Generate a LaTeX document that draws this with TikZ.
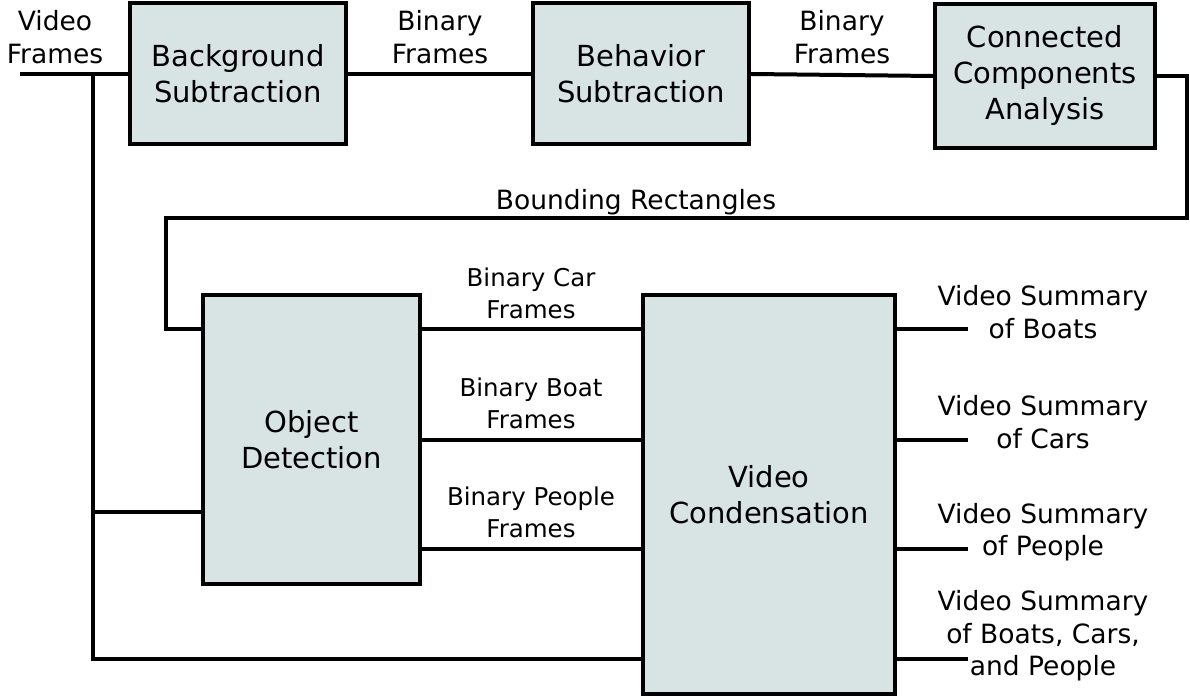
\documentclass[tikz,border=0pt]{standalone}
\usepackage{fontspec}
\setmainfont{DejaVu Sans}
\definecolor{boxfill}{RGB}{216,228,228}
\begin{document}
\begin{tikzpicture}[x=1pt,y=-1pt,
  box/.style={draw=black,line width=4pt,fill=boxfill,rectangle,inner sep=0pt,
    align=center,font=\fontsize{29}{36}\selectfont},
  lbl/.style={align=center,inner sep=0pt,font=\fontsize{26.5}{32.5}\selectfont},
  smalllbl/.style={lbl,font=\fontsize{24.5}{32}\selectfont},
  wire/.style={line width=4pt,line join=miter}]
\useasboundingbox (0,0) rectangle (1190,700);

% processing blocks
\node[box,minimum width=216pt,minimum height=141pt] (bs) at (238,74) {Background\\Subtraction};
\node[box,minimum width=216pt,minimum height=141pt] (beh) at (641,74) {Behavior\\Subtraction};
\node[box,minimum width=220pt,minimum height=144pt] (cca) at (1045,76) {Connected\\Components\\Analysis};
\node[box,minimum width=217pt,minimum height=289pt] (od) at (311.5,439.5) {Object\\Detection};
\node[box,minimum width=252pt,minimum height=399pt] (vc) at (769,494.5) {Video\\Condensation};

% routing points
\coordinate (in) at (20,74);
\coordinate (tap) at (93,74);
\coordinate (tapod) at (93,512);
\coordinate (tapvc) at (93,659);
\coordinate (ccaout) at (1187,76);
\coordinate (brdown) at (1187,218);
\coordinate (brleft) at (166,218);
\coordinate (odin) at (166,329);
\coordinate (o1) at (968,329);
\coordinate (o2) at (968,440);
\coordinate (o3) at (968,549);
\coordinate (o4) at (968,659);

% connectors
\draw[wire] (in) -- (bs.west);
\draw[wire] (tap) -- (tapvc) -- (vc.west |- tapvc);
\draw[wire] (tapod) -- (od.west |- tapod);
\draw[wire] (bs.east) -- (beh.west);
\draw[wire] (beh.east) -- (cca.west);
\draw[wire] (cca.east |- ccaout) -- (ccaout) -- (brdown) -- (brleft) -- (odin) -- (od.west |- odin);
\draw[wire] (od.east |- o1) -- (vc.west |- o1);
\draw[wire] (od.east |- o2) -- (vc.west |- o2);
\draw[wire] (od.east |- o3) -- (vc.west |- o3);
\draw[wire] (vc.east |- o1) -- (o1);
\draw[wire] (vc.east |- o2) -- (o2);
\draw[wire] (vc.east |- o3) -- (o3);
\draw[wire] (vc.east |- o4) -- (o4);

% labels
\node[lbl] (lvf) at (55,37) {Video\\Frames};
\node[lbl] (lbf1) at (440,37) {Binary\\Frames};
\node[lbl] (lbf2) at (842,37) {Binary\\Frames};
\node[lbl] (lbr) at (636,202) {Bounding Rectangles};
\node[smalllbl] (lcar) at (531,293) {Binary Car\\Frames};
\node[smalllbl] (lboat) at (531,403) {Binary Boat\\Frames};
\node[smalllbl] (lppl) at (531,512) {Binary People\\Frames};
\node[lbl] (s1) at (1043,312) {Video Summary\\of Boats};
\node[lbl] (s2) at (1043,422) {Video Summary\\of Cars};
\node[lbl] (s3) at (1043,532) {Video Summary\\of People};
\node[lbl] (s4) at (1043,636) {Video Summary\\of Boats, Cars,\\and People};
\end{tikzpicture}
\end{document}
